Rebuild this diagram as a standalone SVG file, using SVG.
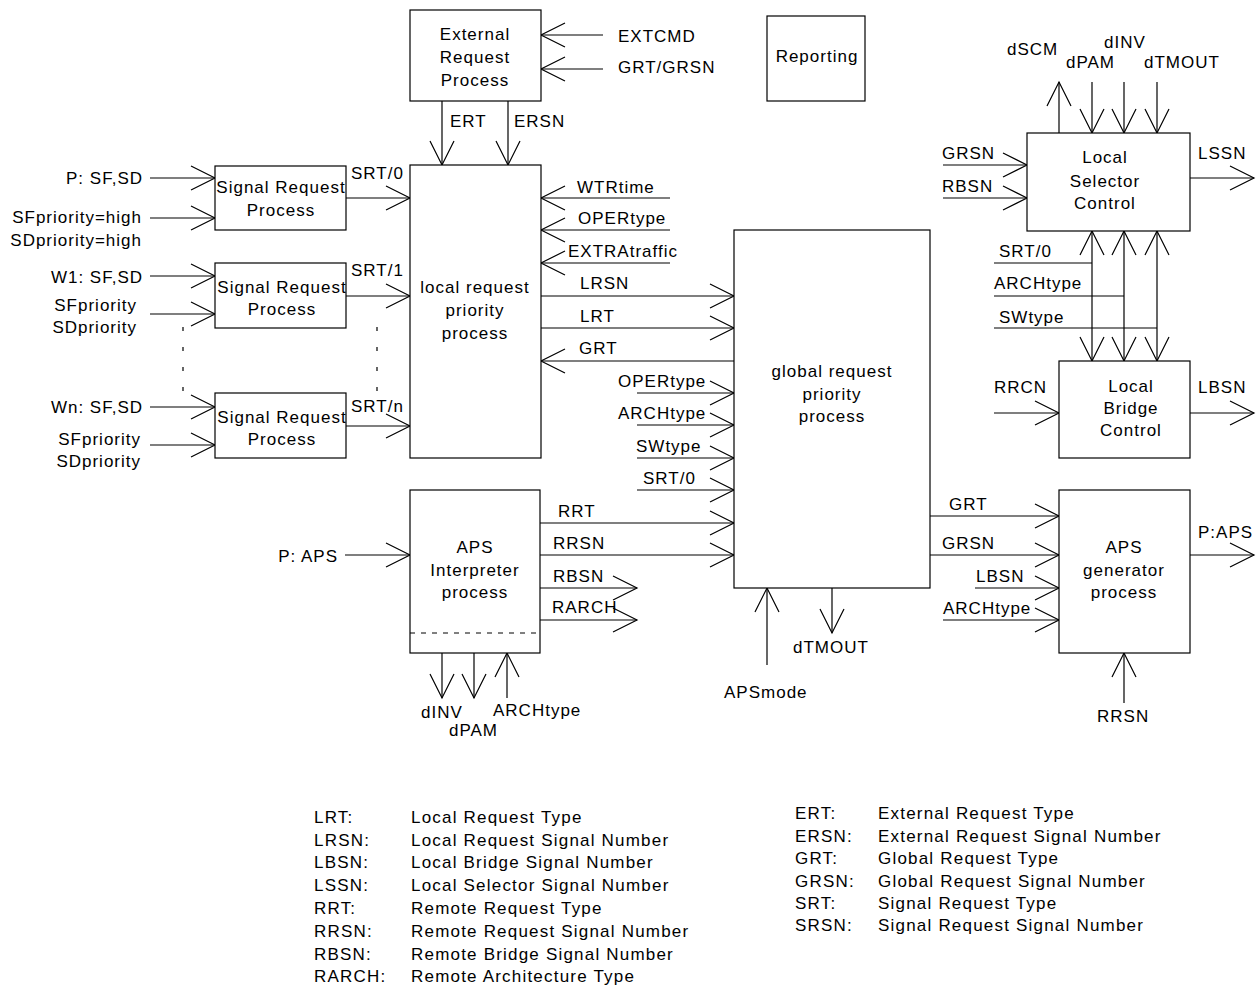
<svg xmlns="http://www.w3.org/2000/svg" width="1258" height="986" viewBox="0 0 1258 986">
<style>
text{font-family:"Liberation Sans",Arial,sans-serif;font-size:17px;letter-spacing:1px;fill:#000}
#legend text{letter-spacing:1.2px}
.c{text-anchor:middle}
.e{text-anchor:end}
.box{fill:#fff;stroke:#000;stroke-width:1.2}
.ln{fill:none;stroke:#000;stroke-width:1.2}
.ar{marker-end:url(#a)}
.dbl{marker-end:url(#a);marker-start:url(#b)}
.dot{fill:none;stroke:#000;stroke-width:1.2;stroke-dasharray:4 16}
.dash{fill:none;stroke:#000;stroke-width:1;stroke-dasharray:5 6}
</style>
<defs>
<marker id="a" markerUnits="userSpaceOnUse" viewBox="0 0 30 28" refX="26" refY="14" markerWidth="30" markerHeight="28" orient="auto"><path d="M2,2 L26,14 L2,26" fill="none" stroke="#000" stroke-width="1.2"/></marker>
<marker id="b" markerUnits="userSpaceOnUse" viewBox="0 0 30 28" refX="26" refY="14" markerWidth="30" markerHeight="28" orient="auto-start-reverse"><path d="M2,2 L26,14 L2,26" fill="none" stroke="#000" stroke-width="1.2"/></marker>
</defs>
<rect width="1258" height="986" fill="#fff"/>

<g id="connectors">
<path class="ln ar" d="M150,178 H215"/>
<path class="ln ar" d="M150,218 H215"/>
<path class="ln ar" d="M150,276 H215"/>
<path class="ln ar" d="M150,314 H215"/>
<path class="ln ar" d="M150,407 H215"/>
<path class="ln ar" d="M150,445 H215"/>
<path class="ln ar" d="M346,198 H410"/>
<path class="ln ar" d="M346,296 H410"/>
<path class="ln ar" d="M346,426 H410"/>
<path class="dot" d="M183,327 V392"/>
<path class="dot" d="M377,327 V392"/>
<path class="ln ar" d="M603,35 H541"/>
<path class="ln ar" d="M603,69 H541"/>
<path class="ln ar" d="M442,101 V165"/>
<path class="ln ar" d="M508,101 V165"/>
<path class="ln ar" d="M670,198 H541"/>
<path class="ln ar" d="M670,230 H541"/>
<path class="ln ar" d="M670,263 H541"/>
<path class="ln ar" d="M541,296 H734"/>
<path class="ln ar" d="M541,328 H734"/>
<path class="ln ar" d="M734,361 H541"/>
<path class="ln ar" d="M637,393 H734"/>
<path class="ln ar" d="M637,425 H734"/>
<path class="ln ar" d="M637,458 H734"/>
<path class="ln ar" d="M637,490 H734"/>
<path class="ln ar" d="M540,523 H734"/>
<path class="ln ar" d="M540,555 H734"/>
<path class="ln ar" d="M540,588 H637"/>
<path class="ln ar" d="M540,620 H637"/>
<path class="ln ar" d="M345,555 H410"/>
<path class="ln ar" d="M442,653 V698"/>
<path class="ln ar" d="M474,653 V698"/>
<path class="ln ar" d="M507,698 V653"/>
<path class="ln ar" d="M767,665 V588"/>
<path class="ln ar" d="M832,588 V633"/>
<path class="ln ar" d="M930,516 H1059"/>
<path class="ln ar" d="M930,555 H1059"/>
<path class="ln ar" d="M975,588 H1059"/>
<path class="ln ar" d="M943,620 H1059"/>
<path class="ln ar" d="M1190,555 H1254"/>
<path class="ln ar" d="M1124,703 V653"/>
<path class="ln ar" d="M1059,133 V82"/>
<path class="ln ar" d="M1092,82 V133"/>
<path class="ln ar" d="M1124,82 V133"/>
<path class="ln ar" d="M1157,82 V133"/>
<path class="ln ar" d="M943,165 H1027"/>
<path class="ln ar" d="M943,198 H1027"/>
<path class="ln ar" d="M1190,178 H1254"/>
<path class="ln dbl" d="M1092,231 V361"/>
<path class="ln dbl" d="M1124,231 V361"/>
<path class="ln dbl" d="M1157,231 V361"/>
<path class="ln" d="M994,263 H1092"/>
<path class="ln" d="M994,296 H1124"/>
<path class="ln" d="M994,328 H1157"/>
<path class="ln ar" d="M994,413 H1059"/>
<path class="ln ar" d="M1190,413 H1254"/>
</g>

<g id="n-external">
<rect class="box" x="410" y="10" width="131" height="91"/>
<text class="c" x="475" y="40">External</text>
<text class="c" x="475" y="63">Request</text>
<text class="c" x="475" y="86">Process</text>
</g>
<g id="n-reporting">
<rect class="box" x="767" y="16" width="98" height="85"/>
<text class="c" x="817" y="62">Reporting</text>
</g>
<g id="n-local-request">
<rect class="box" x="410" y="165" width="131" height="293"/>
<text class="c" x="475" y="293">local request</text>
<text class="c" x="475" y="316">priority</text>
<text class="c" x="475" y="339">process</text>
</g>
<g id="n-srp1">
<rect class="box" x="215" y="166" width="131" height="64"/>
<text class="c" x="281" y="193">Signal Request</text>
<text class="c" x="281" y="216">Process</text>
</g>
<g id="n-srp2">
<rect class="box" x="215" y="263" width="131" height="65"/>
<text class="c" x="282" y="293">Signal Request</text>
<text class="c" x="282" y="315">Process</text>
</g>
<g id="n-srp3">
<rect class="box" x="215" y="393" width="131" height="65"/>
<text class="c" x="282" y="423">Signal Request</text>
<text class="c" x="282" y="445">Process</text>
</g>
<g id="n-global">
<rect class="box" x="734" y="230" width="196" height="358"/>
<text class="c" x="832" y="377">global request</text>
<text class="c" x="832" y="400">priority</text>
<text class="c" x="832" y="422">process</text>
</g>
<g id="n-aps-interp">
<rect class="box" x="410" y="490" width="130" height="163"/>
<path class="dash" d="M410,633 H540"/>
<text class="c" x="475" y="553">APS</text>
<text class="c" x="475" y="576">Interpreter</text>
<text class="c" x="475" y="598">process</text>
</g>
<g id="n-lsc">
<rect class="box" x="1027" y="133" width="163" height="98"/>
<text class="c" x="1105" y="163">Local</text>
<text class="c" x="1105" y="187">Selector</text>
<text class="c" x="1105" y="209">Control</text>
</g>
<g id="n-lbc">
<rect class="box" x="1059" y="361" width="131" height="97"/>
<text class="c" x="1131" y="392">Local</text>
<text class="c" x="1131" y="414">Bridge</text>
<text class="c" x="1131" y="436">Control</text>
</g>
<g id="n-aps-gen">
<rect class="box" x="1059" y="490" width="131" height="163"/>
<text class="c" x="1124" y="553">APS</text>
<text class="c" x="1124" y="576">generator</text>
<text class="c" x="1124" y="598">process</text>
</g>

<g id="labels">
<text class="e" x="143" y="184">P: SF,SD</text>
<text class="e" x="142" y="223">SFpriority=high</text>
<text class="e" x="142" y="246">SDpriority=high</text>
<text class="e" x="143" y="283">W1: SF,SD</text>
<text class="e" x="137" y="311">SFpriority</text>
<text class="e" x="137" y="333">SDpriority</text>
<text class="e" x="143" y="413">Wn: SF,SD</text>
<text class="e" x="141" y="445">SFpriority</text>
<text class="e" x="141" y="467">SDpriority</text>
<text x="351" y="179">SRT/0</text>
<text x="351" y="276">SRT/1</text>
<text x="351" y="412">SRT/n</text>
<text x="618" y="42">EXTCMD</text>
<text x="618" y="73">GRT/GRSN</text>
<text x="450" y="127">ERT</text>
<text x="514" y="127">ERSN</text>
<text x="577" y="193">WTRtime</text>
<text x="578" y="224">OPERtype</text>
<text x="568" y="257">EXTRAtraffic</text>
<text x="580" y="289">LRSN</text>
<text x="580" y="322">LRT</text>
<text x="579" y="354">GRT</text>
<text x="618" y="387">OPERtype</text>
<text x="618" y="419">ARCHtype</text>
<text x="636" y="452">SWtype</text>
<text x="643" y="484">SRT/0</text>
<text x="558" y="517">RRT</text>
<text x="553" y="549">RRSN</text>
<text x="553" y="582">RBSN</text>
<text x="552" y="613">RARCH</text>
<text class="e" x="338" y="562">P: APS</text>
<text x="421" y="718">dINV</text>
<text x="449" y="736">dPAM</text>
<text x="493" y="716">ARCHtype</text>
<text x="724" y="698">APSmode</text>
<text x="793" y="653">dTMOUT</text>
<text x="949" y="510">GRT</text>
<text x="942" y="549">GRSN</text>
<text x="976" y="582">LBSN</text>
<text x="943" y="614">ARCHtype</text>
<text x="1198" y="538">P:APS</text>
<text x="1097" y="722">RRSN</text>
<text x="1007" y="55">dSCM</text>
<text x="1104" y="48">dINV</text>
<text x="1066" y="68">dPAM</text>
<text x="1144" y="68">dTMOUT</text>
<text x="942" y="159">GRSN</text>
<text x="942" y="192">RBSN</text>
<text x="1198" y="159">LSSN</text>
<text x="999" y="257">SRT/0</text>
<text x="994" y="289">ARCHtype</text>
<text x="999" y="323">SWtype</text>
<text x="994" y="393">RRCN</text>
<text x="1198" y="393">LBSN</text>
</g>

<g id="legend">
<text x="314" y="823">LRT:</text><text x="411" y="823">Local Request Type</text>
<text x="314" y="846">LRSN:</text><text x="411" y="846">Local Request Signal Number</text>
<text x="314" y="868">LBSN:</text><text x="411" y="868">Local Bridge Signal Number</text>
<text x="314" y="891">LSSN:</text><text x="411" y="891">Local Selector Signal Number</text>
<text x="314" y="914">RRT:</text><text x="411" y="914">Remote Request Type</text>
<text x="314" y="937">RRSN:</text><text x="411" y="937">Remote Request Signal Number</text>
<text x="314" y="960">RBSN:</text><text x="411" y="960">Remote Bridge Signal Number</text>
<text x="314" y="982">RARCH:</text><text x="411" y="982">Remote Architecture Type</text>
<text x="795" y="819">ERT:</text><text x="878" y="819">External Request Type</text>
<text x="795" y="842">ERSN:</text><text x="878" y="842">External Request Signal Number</text>
<text x="795" y="864">GRT:</text><text x="878" y="864">Global Request Type</text>
<text x="795" y="887">GRSN:</text><text x="878" y="887">Global Request Signal Number</text>
<text x="795" y="909">SRT:</text><text x="878" y="909">Signal Request Type</text>
<text x="795" y="931">SRSN:</text><text x="878" y="931">Signal Request Signal Number</text>
</g>
</svg>
